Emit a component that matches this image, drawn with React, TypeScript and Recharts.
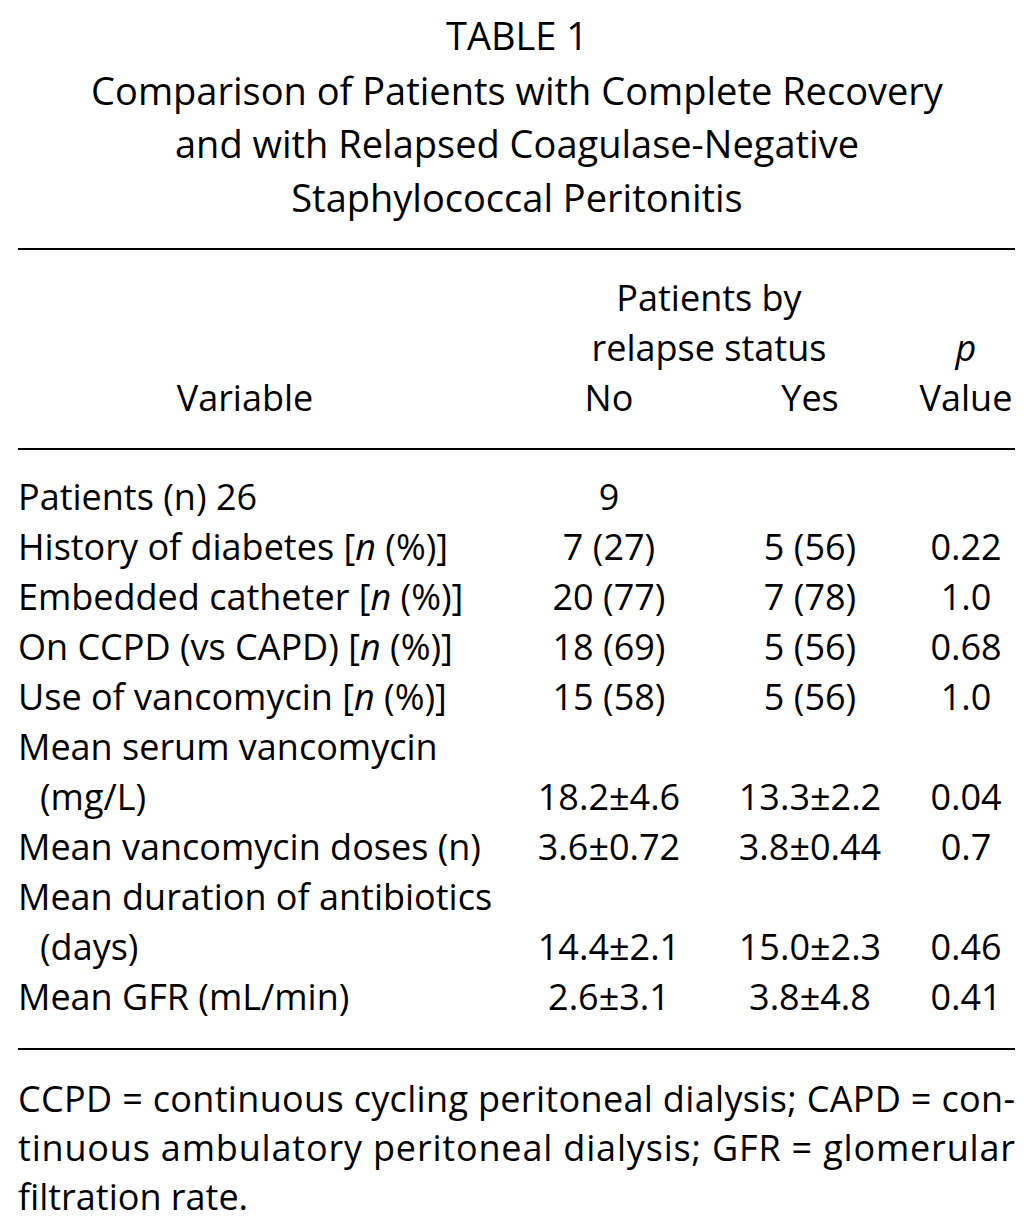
import React from 'react';
import { ScatterChart, Scatter, XAxis, YAxis, ReferenceLine, Customized } from 'recharts';

const titleLines = [
  'TABLE 1',
  'Comparison of Patients with Complete Recovery',
  'and with Relapsed Coagulase-Negative',
  'Staphylococcal Peritonitis',
];

const rowLabels = [
  'Patients (n) 26',
  'History of diabetes [n (%)]',
  'Embedded catheter [n (%)]',
  'On CCPD (vs CAPD) [n (%)]',
  'Use of vancomycin [n (%)]',
  'Mean serum vancomycin',
  '(mg/L)',
  'Mean vancomycin doses (n)',
  'Mean duration of antibiotics',
  '(days)',
  'Mean GFR (mL/min)',
];

const noValues = ['9', '7 (27)', '20 (77)', '18 (69)', '15 (58)', '', '18.2±4.6', '3.6±0.72', '', '14.4±2.1', '2.6±3.1'];
const yesValues = ['', '5 (56)', '7 (78)', '5 (56)', '5 (56)', '', '13.3±2.2', '3.8±0.44', '', '15.0±2.3', '3.8±4.8'];
const pValues = ['', '0.22', '1.0', '0.68', '1.0', '', '0.04', '0.7', '', '0.46', '0.41'];

const footnoteLines = [
  'CCPD = continuous cycling peritoneal dialysis; CAPD = con-',
  'tinuous ambulatory peritoneal dialysis; GFR = glomerular',
  'filtration rate.',
];

// layout (pixels / row units), kept apart from the data
const W = 1032;
const H = 1228;
const FONT = '"Open Sans", "Noto Sans", sans-serif';
const BODY = 36;
const ROW0 = 497;
const ROW_H = 50;
const Y_DOMAIN = [-ROW0 / ROW_H, (H - ROW0) / ROW_H];
const COL_X = { label: 18, no: 609, yes: 810, p: 966 };
const LEFT = 18;
const RIGHT = 1015;

const toCells = (values: string[], col: keyof typeof COL_X) =>
  values
    .map((text, row) => ({ x: COL_X[col], row, text, col }))
    .filter((d) => d.text !== '');

const labelCells = toCells(rowLabels, 'label');
const noCells = toCells(noValues, 'no');
const yesCells = toCells(yesValues, 'yes');
const pCells = toCells(pValues, 'p');

function renderLabel(text: string) {
  const i = text.indexOf('[n ');
  if (i < 0) return text;
  return (
    <>
      {text.slice(0, i + 1)}
      <tspan fontStyle="italic">n</tspan>
      {text.slice(i + 2)}
    </>
  );
}

const CellText = (props: any) => {
  const { cx, cy, payload } = props;
  const isLabel = payload.col === 'label';
  const indent = isLabel && payload.text.startsWith('(') ? 22 : 0;
  return (
    <text
      x={cx + indent}
      y={cy}
      dy={13}
      textAnchor={isLabel ? 'start' : 'middle'}
      fontFamily={FONT}
      fontSize={BODY}
      fontWeight={500}
      fill="#000"
    >
      {renderLabel(payload.text)}
    </text>
  );
};

const Decorations = () => (
  <g fontFamily={FONT} fill="#000" fontWeight={500}>
    {titleLines.map((t, i) => (
      <text key={t} x={517} y={[50, 105, 158, 212][i]} textAnchor="middle" fontSize={38}>
        {t}
      </text>
    ))}
    <g fontSize={BODY} textAnchor="middle">
      <text x={709} y={311}>Patients by</text>
      <text x={709} y={361}>relapse status</text>
      <text x={966} y={361} fontStyle="italic">p</text>
      <text x={245} y={411}>Variable</text>
      <text x={COL_X.no} y={411}>No</text>
      <text x={COL_X.yes} y={411}>Yes</text>
      <text x={COL_X.p} y={411}>Value</text>
    </g>
    {footnoteLines.map((t, i) => (
      <text
        key={t}
        x={LEFT}
        y={1112 + i * 49}
        fontSize={BODY}
        textLength={i < 2 ? RIGHT - LEFT : undefined}
        lengthAdjust="spacing"
      >
        {t}
      </text>
    ))}
  </g>
);

export default function App() {
  return (
    <div style={{ background: '#fff', width: W, height: H }}>
      <style>{'body{margin:0}'}</style>
      <ScatterChart width={W} height={H} margin={{ top: 0, right: 0, bottom: 0, left: 0 }}>
        <XAxis type="number" dataKey="x" domain={[0, W]} hide />
        <YAxis type="number" dataKey="row" domain={Y_DOMAIN} reversed hide />
        <ReferenceLine segment={[{ x: LEFT, y: -4.96 }, { x: RIGHT, y: -4.96 }]} stroke="#000" strokeWidth={2} />
        <ReferenceLine segment={[{ x: LEFT, y: -0.96 }, { x: RIGHT, y: -0.96 }]} stroke="#000" strokeWidth={2} />
        <ReferenceLine segment={[{ x: LEFT, y: 11.04 }, { x: RIGHT, y: 11.04 }]} stroke="#000" strokeWidth={2} />
        <Scatter data={labelCells} shape={CellText} isAnimationActive={false} />
        <Scatter data={noCells} shape={CellText} isAnimationActive={false} />
        <Scatter data={yesCells} shape={CellText} isAnimationActive={false} />
        <Scatter data={pCells} shape={CellText} isAnimationActive={false} />
        <Customized component={Decorations} />
      </ScatterChart>
    </div>
  );
}
